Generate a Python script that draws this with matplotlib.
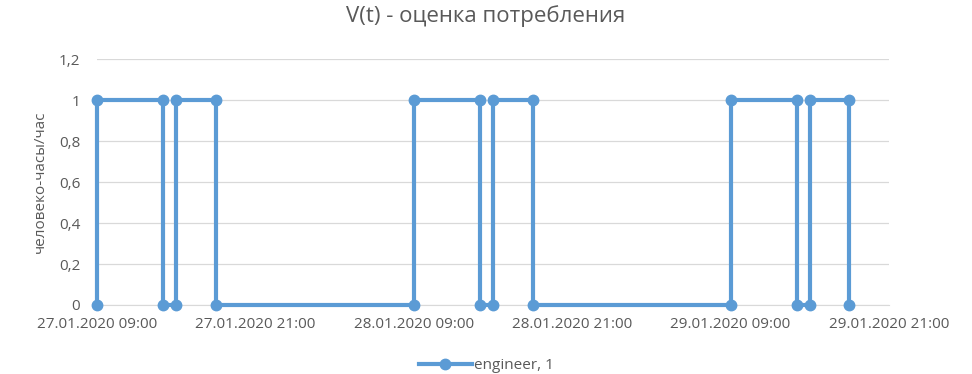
import matplotlib
matplotlib.use("Agg")
from matplotlib import pyplot as plt
import matplotlib.dates as mdates
import matplotlib.ticker as mticker
import pandas as pd

# step points of the series (time, value)
times = [
	"2020-01-27 09:00", "2020-01-27 09:00", "2020-01-27 14:00", "2020-01-27 14:00",
	"2020-01-27 15:00", "2020-01-27 15:00", "2020-01-27 18:00", "2020-01-27 18:00",
	"2020-01-28 09:00", "2020-01-28 09:00", "2020-01-28 14:00", "2020-01-28 14:00",
	"2020-01-28 15:00", "2020-01-28 15:00", "2020-01-28 18:00", "2020-01-28 18:00",
	"2020-01-29 09:00", "2020-01-29 09:00", "2020-01-29 14:00", "2020-01-29 14:00",
	"2020-01-29 15:00", "2020-01-29 15:00", "2020-01-29 18:00", "2020-01-29 18:00",
]
values = [0, 1, 1, 0, 0, 1, 1, 0] * 3

x_ticks = ["2020-01-27 09:00", "2020-01-27 21:00", "2020-01-28 09:00",
	"2020-01-28 21:00", "2020-01-29 09:00", "2020-01-29 21:00"]
y_ticks = [0, 0.2, 0.4, 0.6, 0.8, 1.0, 1.2]

title = "V(t) - оценка потребления"
ylabel = "человеко-часы/час"
series_name = "engineer, 1"

grey = "#595959"
blue = "#5B9BD5"

plt.rcParams['font.family'] = ['Open Sans', 'DejaVu Sans']

fig = plt.figure(figsize=(9.72, 3.74), dpi=100)
ax = fig.add_axes([0.0998, 0.1845, 0.8148, 0.6575])

t = pd.to_datetime(times)
ax.plot(t, values, color=blue, lw=3.0, marker='o', ms=7.5, label=series_name,
	solid_joinstyle='miter', clip_on=False, zorder=3)

xt = pd.to_datetime(x_ticks)
ax.set_xlim(xt[0], xt[-1])
ax.set_ylim(0, 1.2)
ax.set_xticks(xt)
ax.xaxis.set_major_formatter(mdates.DateFormatter("%d.%m.%Y %H:%M"))
ax.set_yticks(y_ticks)
ax.yaxis.set_major_formatter(mticker.FuncFormatter(
	lambda v, p: ("%g" % round(v, 1)).replace('.', ',')))

ax.grid(axis='y', color='#d9d9d9', lw=0.9)
ax.set_axisbelow(True)
for s in ['top', 'right', 'left']:
	ax.spines[s].set_visible(False)
ax.spines['bottom'].set_color('#d9d9d9')
ax.tick_params(axis='both', length=0, labelsize=11, labelcolor=grey, pad=9)
ax.tick_params(axis='y', pad=12)

ax.set_ylabel(ylabel, fontsize=11, color=grey, labelpad=8)
fig.suptitle(title, fontsize=16, color=grey, y=0.985)

fig.legend(handles=ax.get_lines(), labels=[series_name], loc='lower center',
	bbox_to_anchor=(0.5, -0.035), frameon=False, fontsize=11, labelcolor=grey,
	handlelength=3.5, handletextpad=0.1)

fig.savefig("out.png", dpi=100)
